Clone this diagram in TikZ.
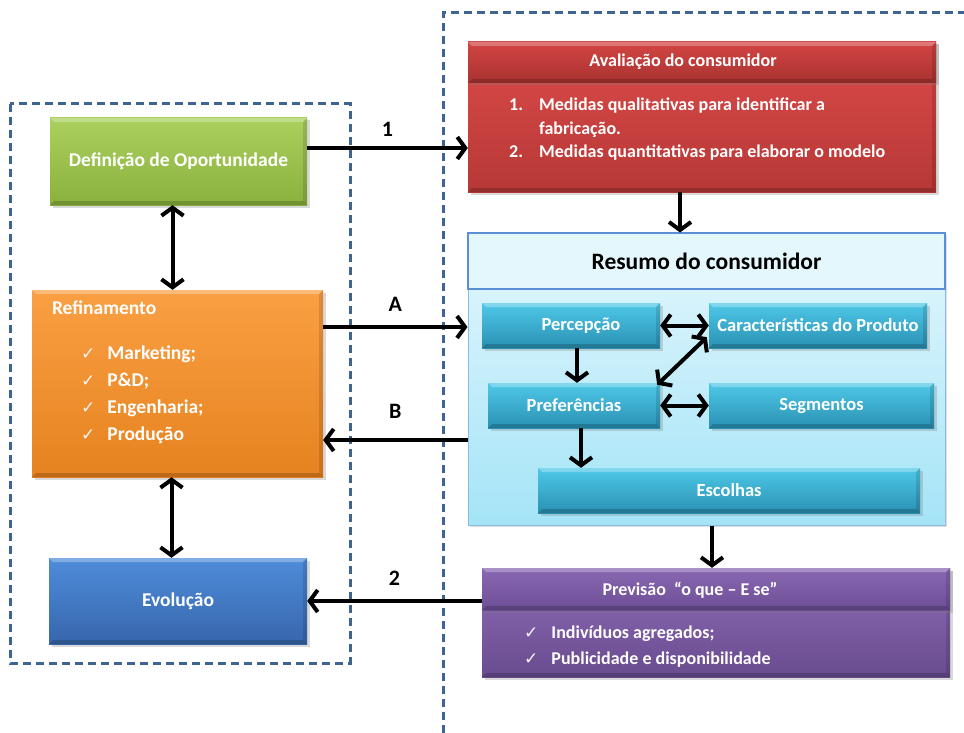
\documentclass[tikz,border=0pt]{standalone}
\usepackage{fontspec}
\setmainfont{Carlito}
\newfontfamily\symfont{DejaVu Sans}
\usetikzlibrary{arrows.meta,shadows}

\definecolor{frameblue}{HTML}{3E6494}
\definecolor{grnT}{HTML}{ABD05E}
\definecolor{grnB}{HTML}{8AB03E}
\definecolor{orgT}{HTML}{FAA043}
\definecolor{orgB}{HTML}{E6821F}
\definecolor{bluT}{HTML}{4E8CDA}
\definecolor{bluB}{HTML}{3766AC}
\definecolor{redT}{HTML}{DC4B4A}
\definecolor{redB}{HTML}{B63836}
\definecolor{redHT}{HTML}{D24543}
\definecolor{redHB}{HTML}{A93331}
\definecolor{purT}{HTML}{8E6DB7}
\definecolor{purB}{HTML}{694B8F}
\definecolor{purHT}{HTML}{8A68B3}
\definecolor{purHB}{HTML}{6D4E95}
\definecolor{cyaT}{HTML}{4FC8E8}
\definecolor{cyaB}{HTML}{2991B3}
\definecolor{panT}{HTML}{E4F7FD}
\definecolor{panB}{HTML}{A4E4F7}
\definecolor{panEdge}{HTML}{8DBBDD}
\definecolor{headEdge}{HTML}{5A8ED6}
\definecolor{checkw}{HTML}{F4F4F4}

\tikzset{
  bevel/.style={path picture={
    \fill[white,opacity=0.28]
      (path picture bounding box.north west) -- (path picture bounding box.north east)
      -- ([xshift=-4pt,yshift=-4pt]path picture bounding box.north east)
      -- ([xshift=4pt,yshift=-4pt]path picture bounding box.north west) -- cycle;
    \fill[black,opacity=0.18]
      (path picture bounding box.south west) -- (path picture bounding box.south east)
      -- ([xshift=-4pt,yshift=4pt]path picture bounding box.south east)
      -- ([xshift=4pt,yshift=4pt]path picture bounding box.south west) -- cycle;
    \fill[black,opacity=0.12]
      (path picture bounding box.north east) -- (path picture bounding box.south east)
      -- ([xshift=-4pt,yshift=4pt]path picture bounding box.south east)
      -- ([xshift=-4pt,yshift=-4pt]path picture bounding box.north east) -- cycle;
  }},
  shbox/.style={rectangle, inner sep=0pt, text=white,
    font=\bfseries\fontsize{19.5}{23}\selectfont,
    drop shadow={shadow xshift=2.5pt,shadow yshift=-2.5pt,opacity=0.3}, bevel},
  greenbox/.style={shbox, top color=grnT, bottom color=grnB},
  orangebox/.style={shbox, top color=orgT, bottom color=orgB},
  bluebox/.style={shbox, top color=bluT, bottom color=bluB},
  redbox/.style={shbox, top color=redT, bottom color=redB},
  redhead/.style={shbox, top color=redHT, bottom color=redHB, drop shadow={opacity=0}},
  purbox/.style={shbox, top color=purT, bottom color=purB},
  purhead/.style={shbox, top color=purHT, bottom color=purHB, drop shadow={opacity=0}},
  cyanbox/.style={shbox, top color=cyaT, bottom color=cyaB,
    font=\bfseries\fontsize{18.5}{22}\selectfont},
  panel/.style={rectangle, inner sep=0pt, draw=panEdge, line width=1pt,
    top color=panT, bottom color=panB,
    drop shadow={shadow xshift=2pt,shadow yshift=-2pt,opacity=0.25}},
  panelhead/.style={rectangle, inner sep=0pt, draw=headEdge, line width=2.5pt,
    fill=panT, text=black, font=\bfseries\fontsize{23.5}{28}\selectfont},
  listtext/.style={inner sep=0pt, text=white, align=left},
  tag/.style={inner sep=0pt, text=black, font=\bfseries\fontsize{22}{26}\selectfont},
  barb/.tip={Straight Barb[length=8pt,width=22pt]},
  arr/.style={line width=4pt, -{barb}},
  darr/.style={line width=4pt, {barb}-{barb}},
  frame/.style={draw=frameblue, line width=3pt, dash pattern=on 8pt off 5pt},
}
\newcommand{\chk}{{\symfont\fontsize{17}{18}\selectfont\color{checkw}✓}}

\begin{document}
\begin{tikzpicture}[x=1pt,y=-1pt]
\useasboundingbox (0,0) rectangle (964,733);

% dashed group frames
\draw[frame] (10,104) rectangle (350,663);
\draw[frame] (443,733) -- (443,13) -- (964,13);

% left column
\node[greenbox, minimum width=257pt, minimum height=87pt] (def) at (178.5,161.5)
  {Definição de Oportunidade\hspace{10pt}};
\node[orangebox, minimum width=291pt, minimum height=187pt] (ref) at (177.5,383.5) {};
\node[bluebox, minimum width=258pt, minimum height=86pt] (evo) at (178,601) {Evolução};

\node[listtext, anchor=west, font=\bfseries\fontsize{19.5}{23}\selectfont]
  (reftitle) at ([xshift=20pt,yshift=-18pt]ref.north west) {Refinamento};
\node[listtext, anchor=north west, font=\bfseries\fontsize{19.5}{27}\selectfont]
  (reflist) at (81,340) {%
  \begin{tabular}{@{}l@{\hspace{12pt}}l@{}}
  \chk & Marketing;\\
  \chk & P\&D;\\
  \chk & Engenharia;\\
  \chk & Produção
  \end{tabular}};

% consumer evaluation
\node[redbox, minimum width=468pt, minimum height=150pt] (aval) at (702,117) {};
\node[redhead, minimum width=468pt, minimum height=41pt] (avalhead) at (702,62.5) {};
\node[listtext, font=\bfseries\fontsize{18}{21}\selectfont] (avaltitle) at (683,62)
  {Avaliação do consumidor};
\node[listtext, anchor=north west, font=\bfseries\fontsize{18}{21}\selectfont]
  (avallist) at (509,96) {%
  \begin{tabular}{@{}l@{\hspace{16pt}}l@{}}
  1. & Medidas qualitativas para identificar a\\[2.5pt]
     & fabricação.\\[2.5pt]
  2. & Medidas quantitativas para elaborar o modelo
  \end{tabular}};

% consumer summary panel
\node[panel, minimum width=477pt, minimum height=292pt] (res) at (706.5,379) {};
\node[panelhead, minimum width=477pt, minimum height=56pt] (reshead) at (706.5,261)
  {Resumo do consumidor\hspace{12pt}};
\node[cyanbox, minimum width=178pt, minimum height=45pt] (perc) at (571,325.5) {\hspace{20pt}Percepção};
\node[cyanbox, minimum width=218pt, minimum height=45pt] (car) at (818,325.5) {Características do Produto};
\node[cyanbox, minimum width=172pt, minimum height=45pt] (pref) at (574,405.5) {Preferências};
\node[cyanbox, minimum width=225pt, minimum height=45pt] (seg) at (821.5,405.5) {Segmentos\hspace{12pt}};
\node[cyanbox, minimum width=382pt, minimum height=45pt] (esc) at (729,490.5) {Escolhas\hspace{12pt}};

% forecast
\node[purbox, minimum width=468pt, minimum height=109pt] (prev) at (716,622.5) {};
\node[purhead, minimum width=468pt, minimum height=42pt] (prevhead) at (716,589) {};
\node[listtext, font=\bfseries\fontsize{18}{21}\selectfont] (prevtitle) at (690,590)
  {Previsão\ \ “o que – E se”};
\node[listtext, anchor=north west, font=\bfseries\fontsize{18}{26}\selectfont]
  (prevlist) at (524,620) {%
  \begin{tabular}{@{}l@{\hspace{13pt}}l@{}}
  \chk & Indivíduos agregados;\\
  \chk & Publicidade e disponibilidade
  \end{tabular}};

% connectors between the groups
\draw[arr] ([yshift=13.5pt]def.east) -- ([yshift=13.5pt]def.east -| aval.west)
  node[tag, midway, yshift=19pt] (t1) {1};
\draw[arr] ([yshift=56.5pt]ref.east) -- ([yshift=56.5pt]ref.east -| res.west)
  node[tag, midway, yshift=23pt] (tA) {A};
\draw[arr] ([yshift=-61pt]res.west) -- ([yshift=-61pt]res.west -| ref.east)
  node[tag, midway, yshift=29pt] (tB) {B};
\draw[arr] (evo.east -| prev.west) -- (evo.east)
  node[tag, midway, yshift=23pt] (t2) {2};
\draw[arr] ([xshift=-22pt]aval.south) -- ([xshift=-22pt]aval.south |- res.north);
\draw[arr] ([xshift=5.5pt]res.south) -- ([xshift=5.5pt]res.south |- prev.north);
\draw[darr] ([xshift=-6pt]def.south) -- ([xshift=-6pt]def.south |- ref.north);
\draw[darr] ([xshift=-6pt]ref.south) -- ([xshift=-6pt]ref.south |- evo.north);

% connectors inside the summary panel
\draw[arr] ([xshift=6pt]perc.south) -- ([xshift=6pt]perc.south |- pref.north);
\draw[arr] ([xshift=7pt]pref.south) -- ([xshift=7pt]pref.south |- esc.north);
\draw[darr] (perc.east) -- (car.west);
\draw[darr] (pref.east) -- (seg.west);
\draw[darr] ([xshift=-3pt,yshift=-2pt]pref.north east) -- ([xshift=-2pt,yshift=11pt]car.south west);
\end{tikzpicture}
\end{document}
